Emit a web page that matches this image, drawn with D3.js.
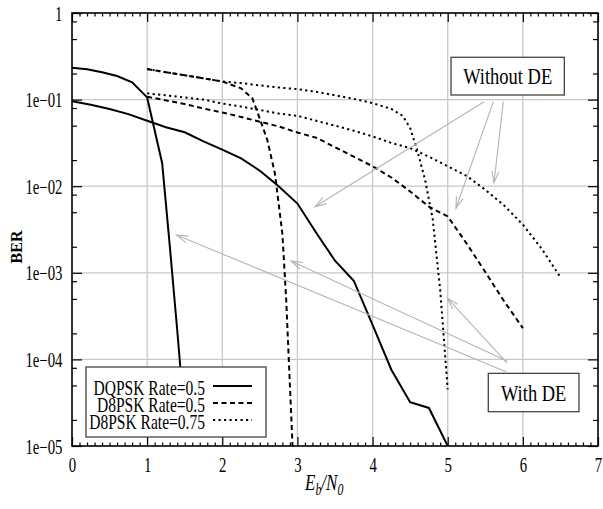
<!DOCTYPE html>
<html>
<head>
<meta charset="utf-8">
<script src="https://cdn.jsdelivr.net/npm/d3@7"></script>
<style>
  body { margin: 0; background: #fff; }
  svg { display: block; }
</style>
</head>
<body>
<script>
// BER vs Eb/N0, with and without DE
var xTicks = [0, 1, 2, 3, 4, 5, 6, 7];
var yTicks = [1e-5, 1e-4, 1e-3, 1e-2, 1e-1, 1];
var yTickLabels = ["1e\u221205", "1e\u221204", "1e\u221203", "1e\u221202", "1e\u221201", "1"];

// DQPSK Rate=0.5
var dqpskDeX = [0, 0.2, 0.4, 0.6, 0.8, 1.0, 1.2, 1.3, 1.4, 1.5];
var dqpskDeY = [0.233, 0.224, 0.207, 0.187, 0.158, 0.106, 0.0184, 0.0021, 0.00022, 0.00002];
var dqpskX = [0, 0.25, 0.5, 0.75, 1, 1.25, 1.5, 1.75, 2, 2.25, 2.5, 2.75, 3, 3.25, 3.5, 3.75, 4, 4.25, 4.5, 4.75, 5];
var dqpskY = [0.096, 0.087, 0.078, 0.068, 0.057, 0.048, 0.042, 0.033, 0.0265, 0.021, 0.0151, 0.0100,
              0.0063, 0.0029, 0.00138, 0.00081, 0.00025, 0.000076, 0.000032, 0.0000275, 0.00001];

// D8PSK Rate=0.5
var d8DeX = [1, 1.25, 1.5, 1.75, 2, 2.25, 2.4, 2.5, 2.6, 2.7, 2.8, 2.85, 2.9, 2.95];
var d8DeY = [0.225, 0.207, 0.191, 0.176, 0.162, 0.135, 0.1035, 0.060, 0.034, 0.0141, 0.0028, 0.0005, 0.00005, 0.000005];
var d8X = [1, 1.25, 1.5, 1.75, 2, 2.25, 2.5, 2.75, 3, 3.25, 3.5, 3.75, 4, 4.25, 4.5, 4.75, 5, 5.25, 5.5, 5.75, 6];
var d8Y = [0.108, 0.098, 0.089, 0.079, 0.071, 0.063, 0.0556, 0.049, 0.0417, 0.0363, 0.0282, 0.0219, 0.0170,
           0.0126, 0.0087, 0.0058, 0.00447, 0.00219, 0.00102, 0.00047, 0.00023];

// D8PSK Rate=0.75
var d875DeX = [1, 1.25, 1.5, 1.75, 2, 2.25, 2.5, 2.75, 3, 3.25, 3.5, 3.75, 4, 4.25, 4.4, 4.5, 4.6, 4.7, 4.8, 4.9, 5];
var d875DeY = [0.225, 0.207, 0.191, 0.176, 0.162, 0.155, 0.146, 0.138, 0.132, 0.123, 0.112, 0.102, 0.091,
               0.078, 0.065, 0.047, 0.025, 0.0117, 0.0042, 0.00063, 0.000045];
var d875X = [1, 1.25, 1.5, 1.75, 2, 2.25, 2.5, 2.75, 3, 3.25, 3.5, 3.75, 4, 4.25, 4.5, 4.75, 5, 5.25, 5.5, 5.75, 6, 6.25, 6.5];
var d875Y = [0.118, 0.112, 0.106, 0.100, 0.090, 0.083, 0.076, 0.069, 0.065, 0.057, 0.050, 0.0437, 0.0376,
             0.0316, 0.0275, 0.0219, 0.0170, 0.0132, 0.0091, 0.0060, 0.0036, 0.0019, 0.00089];

var legendLabels = ["DQPSK Rate=0.5", "D8PSK Rate=0.5", "D8PSK Rate=0.75"];
var dashes = [null, "5,3.5", "2.2,3.3"];

// annotation arrows, [x, BER] start -> tip
var withoutArrows = [[[5.483, 0.0946], [3.234, 0.0058]],
                     [[5.607, 0.0946], [5.11, 0.00556]],
                     [[5.74, 0.0946], [5.616, 0.011]]];
var withArrows = [[[5.776, 7.2e-5], [1.393, 2.73e-3]],
                  [[5.789, 9.6e-5], [2.915, 1.37e-3]],
                  [[5.789, 9.1e-5], [4.995, 5.1e-4]]];

var W = 603, H = 509;
var sx = 0.74;
var font = "'Liberation Serif', 'Times New Roman', serif";

var svg = d3.select("body").append("svg")
    .attr("width", W)
    .attr("height", H)
    .style("font-family", font);

svg.append("rect").attr("width", W).attr("height", H).attr("fill", "#fff");

var x = d3.scaleLinear().domain([0, 7]).range([72, 598]);
var y = d3.scaleLog().domain([1e-5, 1]).range([446, 13]);

// grid
var grid = svg.append("g").attr("stroke", "#c8c8c8").attr("stroke-width", 1.3);
grid.selectAll(".vx").data(xTicks.slice(1, -1)).enter().append("line")
    .attr("x1", d => x(d)).attr("x2", d => x(d))
    .attr("y1", y(1)).attr("y2", y(1e-5));
grid.selectAll(".hy").data(yTicks.slice(1, -1)).enter().append("line")
    .attr("x1", x(0)).attr("x2", x(7))
    .attr("y1", d => y(d)).attr("y2", d => y(d));

svg.append("clipPath").attr("id", "plot")
  .append("rect")
    .attr("x", x(0)).attr("y", y(1))
    .attr("width", x(7) - x(0)).attr("height", y(1e-5) - y(1));

var line = d3.line().x(d => x(d[0])).y(d => y(d[1]));
var curves = [
  [dqpskDeX, dqpskDeY, 0], [dqpskX, dqpskY, 0],
  [d8DeX, d8DeY, 1], [d8X, d8Y, 1],
  [d875DeX, d875DeY, 2], [d875X, d875Y, 2]
];
var cg = svg.append("g").attr("clip-path", "url(#plot)");
curves.forEach(function (c) {
  cg.append("path")
    .datum(d3.zip(c[0], c[1]))
    .attr("d", line)
    .attr("fill", "none")
    .attr("stroke", "#000")
    .attr("stroke-width", 2)
    .attr("stroke-dasharray", dashes[c[2]]);
});

// ticks
var minorX = d3.range(0, 71).map(d => d / 10).filter(d => d % 1 !== 0);
var minorY = [];
yTicks.slice(0, -1).forEach(function (t) { [2, 5, 8].forEach(m => minorY.push(t * m)); });

function ticks(axis, tr) {
  var g = svg.append("g").attr("transform", tr).call(axis);
  g.select(".domain").remove();
  g.selectAll("line").attr("stroke", "#000").attr("stroke-width", 1.2);
  return g;
}
ticks(d3.axisBottom(x).tickValues(minorX).tickSize(-3.5).tickFormat(""), "translate(0," + y(1e-5) + ")");
ticks(d3.axisTop(x).tickValues(minorX).tickSize(-3.5).tickFormat(""), "translate(0," + y(1) + ")");
ticks(d3.axisTop(x).tickValues(xTicks).tickSize(-9).tickFormat(""), "translate(0," + y(1) + ")");
ticks(d3.axisLeft(y).tickValues(minorY).tickSize(-5).tickFormat(""), "translate(" + x(0) + ",0)");
ticks(d3.axisRight(y).tickValues(minorY).tickSize(-5).tickFormat(""), "translate(" + x(7) + ",0)");
ticks(d3.axisRight(y).tickValues(yTicks).tickSize(-10).tickFormat(""), "translate(" + x(7) + ",0)");

var bx = ticks(d3.axisBottom(x).tickValues(xTicks).tickSize(-9).tickFormat(d3.format("d")),
               "translate(0," + y(1e-5) + ")");
bx.selectAll("text")
    .attr("y", null).attr("dy", null)
    .attr("transform", "translate(0,26) scale(" + sx + ",1)")
    .attr("fill", "#000")
    .style("font-size", "20px").style("font-family", font);

var ly = ticks(d3.axisLeft(y).tickValues(yTicks).tickSize(-10).tickFormat((d, i) => yTickLabels[i]),
               "translate(" + x(0) + ",0)");
ly.selectAll("text")
    .attr("x", null).attr("dy", null)
    .attr("transform", "translate(-9.5,7) scale(" + sx + ",1)")
    .attr("fill", "#000")
    .style("font-size", "20px").style("font-family", font);

// frame
svg.append("rect")
    .attr("x", x(0)).attr("y", y(1))
    .attr("width", x(7) - x(0)).attr("height", y(1e-5) - y(1))
    .attr("fill", "none").attr("stroke", "#000").attr("stroke-width", 1.6);

// axis titles
svg.append("text")
    .attr("transform", "translate(22,247) rotate(-90)")
    .attr("text-anchor", "middle")
    .style("font-size", "16px").style("font-weight", "bold")
    .text("BER");

var xl = svg.append("text")
    .attr("transform", "translate(305,490) scale(" + sx + ",1)")
    .style("font-size", "23px").style("font-style", "italic");
xl.append("tspan").text("E");
xl.append("tspan").attr("dy", 5).style("font-size", "16px").text("b");
xl.append("tspan").attr("dy", -5).text("/N");
xl.append("tspan").attr("dy", 5).style("font-size", "16px").text("0");

// annotations
function arrow(a) {
  var x1 = x(a[0][0]), y1 = y(a[0][1]), x2 = x(a[1][0]), y2 = y(a[1][1]);
  var ang = Math.atan2(y1 - y2, x1 - x2), L = 12, s = 0.3;
  var g = svg.append("g").attr("stroke", "#b4b4b4").attr("stroke-width", 1.1).attr("fill", "none");
  g.append("line").attr("x1", x1).attr("y1", y1).attr("x2", x2).attr("y2", y2);
  g.append("path").attr("d", "M" + (x2 + L * Math.cos(ang + s)) + "," + (y2 + L * Math.sin(ang + s)) +
      "L" + x2 + "," + y2 + "L" + (x2 + L * Math.cos(ang - s)) + "," + (y2 + L * Math.sin(ang - s)));
}
withoutArrows.forEach(arrow);
withArrows.forEach(arrow);

function box(x0, x1, b0, b1, label) {
  svg.append("rect")
      .attr("x", x(x0)).attr("y", y(b0))
      .attr("width", x(x1) - x(x0)).attr("height", y(b1) - y(b0))
      .attr("fill", "#fff").attr("stroke", "#444").attr("stroke-width", 1.3);
  svg.append("text")
      .attr("transform", "translate(" + (x(x0) + x(x1)) / 2 + "," + ((y(b0) + y(b1)) / 2 + 8) + ") scale(0.77,1)")
      .attr("text-anchor", "middle")
      .style("font-size", "24px")
      .text(label);
}
box(5.044, 6.552, 0.308, 0.113, "Without DE");
box(5.54, 6.747, 6.9e-5, 2.49e-5, "With DE");

// legend
var lg = svg.append("g");
lg.append("rect")
    .attr("x", 86).attr("y", 367).attr("width", 180).attr("height", 70)
    .attr("fill", "#fff").attr("stroke", "#444").attr("stroke-width", 1.3);
legendLabels.forEach(function (t, i) {
  var by = 395 + i * 17;
  lg.append("text")
      .attr("transform", "translate(205," + by + ") scale(" + sx + ",1)")
      .attr("text-anchor", "end")
      .style("font-size", "21px")
      .text(t);
  lg.append("line")
      .attr("x1", 213).attr("x2", 252).attr("y1", by - 9).attr("y2", by - 9)
      .attr("stroke", "#000").attr("stroke-width", 2)
      .attr("stroke-dasharray", dashes[i]);
});
</script>
</body>
</html>
